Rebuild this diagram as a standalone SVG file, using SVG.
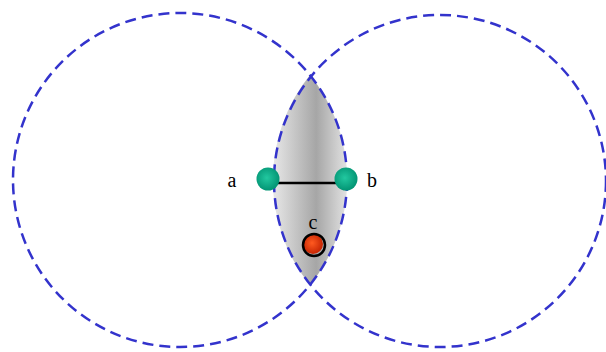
<svg xmlns="http://www.w3.org/2000/svg" width="606" height="352" viewBox="0 0 606 352">
<defs>
<linearGradient id="lens" x1="275" y1="0" x2="350" y2="0" gradientUnits="userSpaceOnUse">
<stop offset="0" stop-color="#e4e4e4"/>
<stop offset="0.55" stop-color="#a6a6a6"/>
<stop offset="1" stop-color="#e8e8e8"/>
</linearGradient>
<radialGradient id="green" cx="0.45" cy="0.45" r="0.6">
<stop offset="0" stop-color="#22c8a0"/>
<stop offset="1" stop-color="#009070"/>
</radialGradient>
<radialGradient id="red" cx="0.45" cy="0.45" r="0.6">
<stop offset="0" stop-color="#ff5a20"/>
<stop offset="1" stop-color="#c02000"/>
</radialGradient>
<style>
.rng{fill:none;stroke:#3333cc;stroke-width:2.5;stroke-dasharray:11 6}
.lbl{font-family:"Liberation Serif",serif;font-size:20px;fill:#000}
</style>
</defs>
<path d="M310,75 A167,167 0 0 1 310,285 A167,167 0 0 1 310,75 Z" fill="url(#lens)"/>
<g id="rings">
<circle class="rng" cx="180" cy="180" r="167"/>
<circle class="rng" cx="440" cy="181" r="166"/>
</g>
<g id="connectors">
<line x1="268" y1="183" x2="346" y2="183" stroke="#000" stroke-width="2.5"/>
</g>
<g id="node-a">
<circle cx="268" cy="179" r="11.5" fill="url(#green)"/>
<text class="lbl" x="232" y="187" text-anchor="middle">a</text>
</g>
<g id="node-b">
<circle cx="346" cy="179" r="11.5" fill="url(#green)"/>
<text class="lbl" x="372" y="187" text-anchor="middle">b</text>
</g>
<g id="node-c">
<circle cx="313" cy="244" r="10" fill="url(#red)"/>
<circle cx="314" cy="245" r="11" fill="none" stroke="#000" stroke-width="2.5"/>
<text class="lbl" x="313" y="229" text-anchor="middle">c</text>
</g>
</svg>
